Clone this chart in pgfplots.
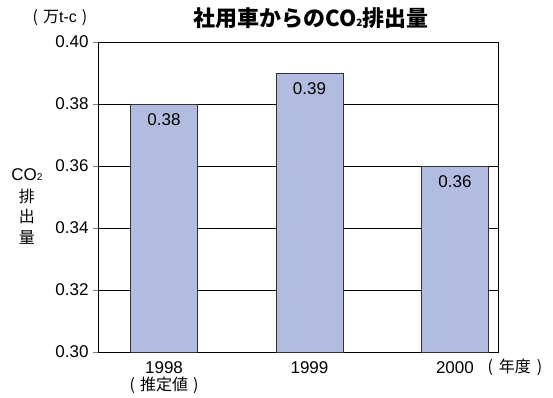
\documentclass[border=0pt]{standalone}
\usepackage{fontspec}
\setmainfont{Liberation Sans}
\newfontfamily\cjk{Noto Sans CJK JP}
\usepackage{pgfplots}
\pgfplotsset{compat=1.18}
\definecolor{barfill}{RGB}{178,188,224}
\begin{document}
\begin{tikzpicture}
\path[use as bounding box] (-98pt,-45pt) rectangle (455pt,352pt);
\begin{axis}[
  scale only axis,
  width=400pt, height=310pt,
  ymin=0.30, ymax=0.40,
  ytick={0.30,0.32,0.34,0.36,0.38,0.40},
  yticklabel style={/pgf/number format/fixed,/pgf/number format/precision=2,/pgf/number format/fixed zerofill, font=\fontsize{17}{19}\selectfont, xshift=-1pt},
  /pgf/number format/assume math mode=true,
  xmin=-0.454, xmax=2.296,
  xtick={0,1,2},
  xticklabels={{1998\\{\cjk\fontsize{16}{17}\selectfont (\hspace{5pt}推定値\hspace{5pt})}},1999,2000},
  xticklabel style={align=center, font=\fontsize{17}{17}\selectfont, yshift=-1pt},
  major x tick style={draw=none},
  ytick align=outside, major tick length=5pt,
  ytick pos=left,
  ymajorgrids, grid style={black, line width=0.5pt},
  axis line style={black, line width=0.6pt},
  ybar, bar width=67pt,
  nodes near coords,
  nodes near coords style={/pgf/number format/fixed,/pgf/number format/precision=2,/pgf/number format/fixed zerofill, anchor=center, yshift=-16pt, font=\fontsize{17}{19}\selectfont},
]
\addplot[fill=barfill, draw=black!80, line width=0.5pt] coordinates {(0,0.38) (1,0.39) (2,0.36)};
\end{axis}
\node[font=\cjk\bfseries\fontsize{22}{24}\selectfont] at (213pt,334pt) {社用車からのCO{\fontsize{10}{10}\selectfont 2}排出量};
\node[font=\fontsize{16}{18}\selectfont] at (-38pt,334pt) {{\cjk(\hspace{5pt}万}t-c{\cjk\hspace{5pt})}};
\node[font=\cjk\fontsize{16}{18}\selectfont] at (417pt,-15pt) {(\hspace{6pt}年度\hspace{6pt})};
\node[font=\fontsize{17}{19}\selectfont] at (-71pt,177pt) {CO{\fontsize{10}{10}\selectfont 2}};
\node[font=\cjk\fontsize{16}{18}\selectfont] at (-71pt,156pt) {排};
\node[font=\cjk\fontsize{16}{18}\selectfont] at (-71pt,136pt) {出};
\node[font=\cjk\fontsize{16}{18}\selectfont] at (-71pt,115pt) {量};
\end{tikzpicture}
\end{document}
